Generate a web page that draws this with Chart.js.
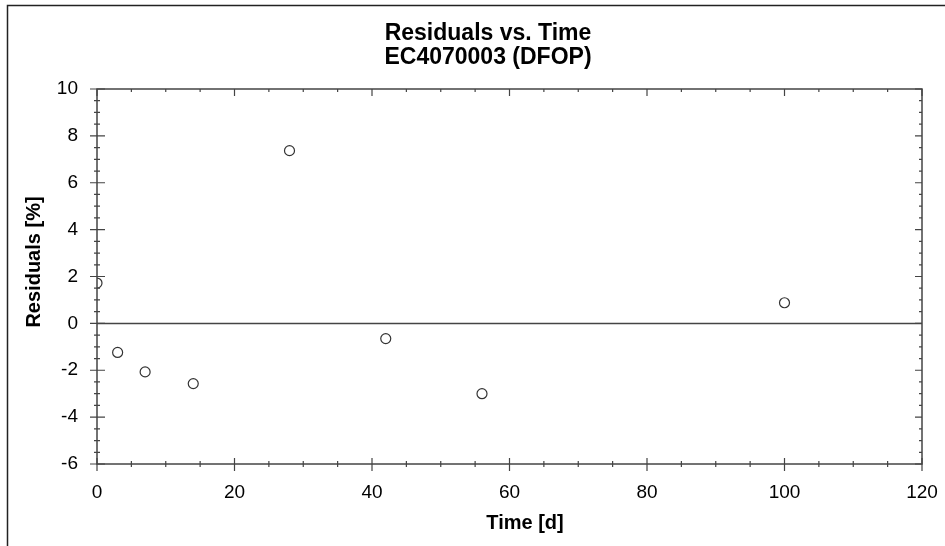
<!DOCTYPE html>
<html>
<head>
<meta charset="utf-8">
<script src="https://cdn.jsdelivr.net/npm/chart.js@4"></script>
<style>
  html, body { margin: 0; padding: 0; background: #fff; }
  #wrap { width: 945px; height: 546px; position: relative; }
</style>
</head>
<body>
<div id="wrap"><canvas id="chart-resid" width="945" height="546"></canvas></div>
<script>
// --- Data ---
const timeDays = [0, 3, 7, 14, 28, 42, 56, 100];
const residuals = [1.72, -1.24, -2.07, -2.57, 7.37, -0.65, -3.0, 0.88];
const zeroLineX = [0, 120];
const zeroLineY = [0, 0];

const xRange = [0, 120];
const yRange = [-6, 10];
const xMajor = 20, xMinor = 5;
const yMajor = 2, yMinor = 0.5;

const titleLines = ['Residuals vs. Time', 'EC4070003 (DFOP)'];
const xTitle = 'Time [d]';
const yTitle = 'Residuals [%]';

const axisColor = '#444';
const fontFamily = 'Arial, "Liberation Sans", sans-serif';

// --- Frame, ticks and titles drawn on top of the chart ---
const framePlugin = {
  id: 'frame',
  afterDraw(chart) {
    const { ctx, chartArea: a, scales: { x, y } } = chart;
    ctx.save();

    // outer figure border (left + top)
    ctx.strokeStyle = '#222';
    ctx.lineWidth = 1.5;
    ctx.beginPath();
    ctx.moveTo(7.5, 546);
    ctx.lineTo(7.5, 5.5);
    ctx.lineTo(945, 5.5);
    ctx.stroke();

    // plot box
    ctx.strokeStyle = axisColor;
    ctx.lineWidth = 1.5;
    ctx.strokeRect(a.left, a.top, a.right - a.left, a.bottom - a.top);

    ctx.lineWidth = 1.2;
    ctx.beginPath();
    // x ticks
    for (let v = xRange[0]; v <= xRange[1] + 1e-9; v += xMinor) {
      const px = x.getPixelForValue(v);
      const major = Math.abs(v % xMajor) < 1e-9;
      ctx.moveTo(px, a.bottom - (major ? 6 : 3));
      ctx.lineTo(px, a.bottom + (major ? 7 : 3));
      ctx.moveTo(px, a.top);
      ctx.lineTo(px, a.top + (major ? 7 : 3));
    }
    // y ticks
    for (let v = yRange[0]; v <= yRange[1] + 1e-9; v += yMinor) {
      const py = y.getPixelForValue(v);
      const major = Math.abs(v % yMajor) < 1e-9;
      ctx.moveTo(a.left - (major ? 7 : 3), py);
      ctx.lineTo(a.left + (major ? 8 : 3), py);
      ctx.moveTo(a.right, py);
      ctx.lineTo(a.right - (major ? 7 : 3), py);
    }
    ctx.stroke();

    // titles
    ctx.fillStyle = '#000';
    ctx.textAlign = 'center';
    ctx.textBaseline = 'middle';
    ctx.font = 'bold 23px ' + fontFamily;
    ctx.fillText(titleLines[0], 488, 34);
    ctx.fillText(titleLines[1], 488, 58);

    ctx.font = 'bold 20px ' + fontFamily;
    ctx.fillText(xTitle, 525, 523);

    ctx.translate(34, 262);
    ctx.rotate(-Math.PI / 2);
    ctx.fillText(yTitle, 0, 0);
    ctx.restore();
  }
};

const ctx = document.getElementById('chart-resid').getContext('2d');

new Chart(ctx, {
  type: 'scatter',
  data: {
    datasets: [
      {
        type: 'line',
        label: 'zero',
        data: zeroLineX.map((t, i) => ({ x: t, y: zeroLineY[i] })),
        borderColor: axisColor,
        borderWidth: 1.5,
        pointRadius: 0,
        fill: false,
      },
      {
        label: 'Residuals',
        data: timeDays.map((t, i) => ({ x: t, y: residuals[i] })),
        pointStyle: 'circle',
        pointRadius: 5,
        borderColor: '#333',
        borderWidth: 1.2,
        backgroundColor: 'rgba(255,255,255,0)',
        clip: 0,
      },
    ],
  },
  options: {
    responsive: false,
    animation: false,
    events: [],
    layout: { padding: { left: 0, top: 89, right: 23, bottom: 0 } },
    plugins: {
      legend: { display: false },
      tooltip: { enabled: false },
      title: { display: false },
    },
    scales: {
      x: {
        type: 'linear',
        min: xRange[0],
        max: xRange[1],
        ticks: {
          stepSize: xMajor,
          color: '#000',
          padding: 17,
          font: { family: fontFamily, size: 19 },
        },
        grid: { display: false, drawTicks: false },
        border: { display: false },
        afterFit: (scale) => {
          scale.height = 82;
          scale.paddingLeft = 0;
          scale.paddingRight = 0;
        },
      },
      y: {
        type: 'linear',
        min: yRange[0],
        max: yRange[1],
        ticks: {
          stepSize: yMajor,
          color: '#000',
          padding: 19,
          font: { family: fontFamily, size: 19 },
        },
        grid: { display: false, drawTicks: false },
        border: { display: false },
        afterFit: (scale) => {
          scale.width = 97;
          scale.paddingTop = 0;
          scale.paddingBottom = 0;
        },
      },
    },
  },
  plugins: [framePlugin],
});
</script>
</body>
</html>
